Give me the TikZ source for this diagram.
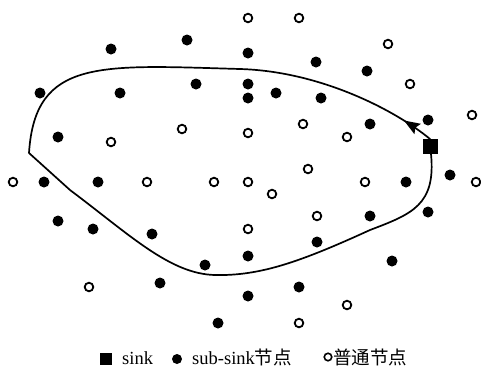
\documentclass[tikz,border=0pt]{standalone}
\usepackage{fontspec}
\setmainfont{Liberation Serif}
\newfontfamily\cjk{Noto Sans CJK SC}
\usetikzlibrary{arrows.meta,decorations.markings}
\tikzset{
  subnode/.style={circle, fill=black, inner sep=0pt, minimum size=11bp},
  ordnode/.style={circle, draw=black, line width=1.8bp, fill=white, inner sep=0pt, minimum size=8.6bp},
  sinknode/.style={rectangle, fill=black, inner sep=0pt, minimum size=15bp},
  route/.style={line width=1.7bp, line join=round},
  legtext/.style={anchor=base west, inner sep=0pt, font=\fontsize{18.5bp}{20bp}\selectfont}
}
\begin{document}
\begin{tikzpicture}[x=1bp,y=-1bp]
\useasboundingbox (0,0) rectangle (481,369);
% route
\draw[route, postaction={decorate}, decoration={markings, mark=at position 39bp with {\arrow{Stealth[length=16bp,width=12bp,inset=2.5bp]}}}]
  (430,146) -- (430,139) .. controls (395,110) and (320,71.3) .. (240,69)
  .. controls (100,65) and (35,58) .. (29,153) -- (70,190)
  .. controls (130,235) and (170,274) .. (215,275)
  .. controls (260,276) and (300,262) .. (370,230)
  .. controls (412,214) and (436,205) .. (431,154) -- (430,146);
% sub-sink nodes
\foreach \n/\x/\y in {f1/111/49, f2/187/40, f3/40/93, f4/120/93, f5/196/84, f6/58/137,
  f7/248/53, f8/316/62, f9/367/71, f10/248/84, f11/248/98, f12/276/93, f13/321/98,
  f14/428/120, f15/370/124, f16/450/175, f17/44/182, f18/98/182, f19/406/182,
  f20/58/221, f21/93/229, f22/152/234, f23/205/265, f24/160/283, f25/218/323,
  f26/428/212, f27/370/216, f28/317/242, f29/248/256, f30/392/261, f31/248/296, f32/299/287}
  \node[subnode] (\n) at (\x,\y) {};
% ordinary nodes
\foreach \n/\x/\y in {o1/248/18, o2/299/18, o3/388/44, o4/410/84, o5/472/115,
  o6/111/142, o7/182/129, o8/303/124, o9/248/133, o10/347/137, o11/13/182,
  o12/147/182, o13/214/182, o14/248/182, o15/272/194, o16/308/169, o17/365/182,
  o18/476/182, o19/317/216, o20/248/229, o21/89/287, o22/347/305, o23/299/323}
  \node[ordnode] (\n) at (\x,\y) {};
% sink
\node[sinknode] (sink) at (430,146.5) {};
% legend
\node[rectangle, fill=black, inner sep=0pt, minimum size=12bp] (lsink) at (105.5,358.5) {};
\node[legtext] (tsink) at (122,364) {sink};
\node[circle, fill=black, inner sep=0pt, minimum size=10bp] (lsub) at (177,359) {};
\node[legtext] (tsub) at (192,364) {sub-sink{\cjk 节点}};
\node[circle, draw=black, line width=1.6bp, inner sep=0pt, minimum size=7.5bp] (lord) at (328,357) {};
\node[legtext] (tord) at (333,364) {\cjk 普通节点};
\end{tikzpicture}
\end{document}
